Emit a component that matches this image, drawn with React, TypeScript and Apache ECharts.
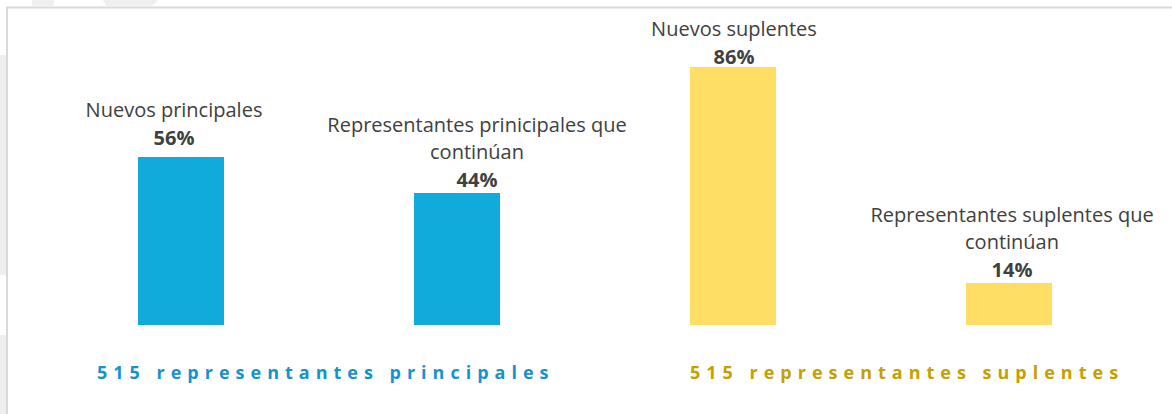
import React, { useEffect, useRef } from 'react';
import * as echarts from 'echarts';

// ---- data ----
const categories = [
  'Nuevos principales',
  'Representantes prinicipales que continúan',
  'Nuevos suplentes',
  'Representantes suplentes que continúan',
];
const values = [56, 44, 86, 14];
const groupOfCategory = [0, 0, 1, 1];
const groupTitles = ['515 representantes principales', '515 representantes suplentes'];

// ---- styles ----
const BAR_COLORS = ['#10aadb', '#ffde66'];
const TITLE_COLORS = ['#1592d0', '#c5a000'];
const TITLE_X = [97, 690];
const LABEL_OFFSETS = [[-7, 0], [20, 0], [1, 0], [3, 0]];
const LABEL_DISTANCES = [6, 0, -3, 0];
const FONT = "'Open Sans', 'Noto Sans', sans-serif";

function wrap(s: string, max: number): string[] {
  const words = s.split(' ');
  const lines: string[] = [];
  let cur = '';
  for (const w of words) {
    const t = cur ? cur + ' ' + w : w;
    if (t.length > max && cur) {
      lines.push(cur);
      cur = w;
    } else cur = t;
  }
  if (cur) lines.push(cur);
  return lines;
}

export default function App() {
  const ref = useRef<HTMLDivElement>(null);
  useEffect(() => {
    const el = ref.current!;
    const chart = echarts.init(el, null, { renderer: 'svg' });
    chart.setOption({
      animation: false,
      backgroundColor: '#ffffff',
      grid: { left: 43, width: 1104, top: 25, bottom: 89 },
      xAxis: { type: 'category', data: categories, show: false },
      yAxis: { type: 'value', min: 0, max: 100, show: false },
      series: [
        {
          type: 'bar',
          barWidth: 86,
          data: values.map((v, i) => ({
            value: v,
            itemStyle: { color: BAR_COLORS[groupOfCategory[i]] },
            label: { offset: LABEL_OFFSETS[i], distance: LABEL_DISTANCES[i] },
          })),
          label: {
            show: true,
            position: 'top',
            formatter: (p: any) =>
              wrap(categories[p.dataIndex], 31)
                .map((l) => `{n|${l}}`)
                .join('\n') + `\n{v|${p.value}%}`,
            rich: {
              n: { fontFamily: FONT, fontSize: 20, color: '#404040', lineHeight: 27 },
              v: { fontFamily: FONT, fontSize: 20, fontWeight: 'bold', color: '#404040', lineHeight: 28 },
            },
          },
        },
      ],
      graphic: [
        // faint background shapes outside the frame
        { type: 'rect', shape: { x: 0, y: 55, width: 6, height: 220 }, style: { fill: '#eeeeee' }, silent: true },
        { type: 'rect', shape: { x: 0, y: 335, width: 6, height: 79 }, style: { fill: '#eeeeee' }, silent: true },
        { type: 'rect', shape: { x: 32, y: 0, width: 22, height: 6 }, style: { fill: '#efefef' }, silent: true },
        { type: 'polygon', shape: { points: [[103, 0], [158, 0], [152, 6], [106, 6]] }, style: { fill: '#efefef' }, silent: true },
        // frame
        { type: 'line', shape: { x1: 6, y1: 7.5, x2: 1172, y2: 7.5 }, style: { stroke: '#d9d9d9', lineWidth: 2 }, silent: true },
        { type: 'line', shape: { x1: 7, y1: 7, x2: 7, y2: 414 }, style: { stroke: '#d9d9d9', lineWidth: 2 }, silent: true },
        ...groupTitles.map((t, g) => ({
          type: 'text',
          x: TITLE_X[g],
          y: 372,
          style: {
            text: t,
            fill: TITLE_COLORS[g],
            font: `bold 18px ${FONT}`,
            align: 'left',
            verticalAlign: 'middle',
          },
          silent: true,
        })),
      ],
    });
    // letter spacing for the group titles
    el.querySelectorAll('text').forEach((n) => {
      if (groupTitles.includes((n.textContent || '').trim())) {
        n.setAttribute('letter-spacing', '6');
      }
    });
    return () => chart.dispose();
  }, []);
  return (
    <div
      ref={ref}
      style={{ position: 'fixed', left: 0, top: 0, width: 1172, height: 414 }}
    />
  );
}
